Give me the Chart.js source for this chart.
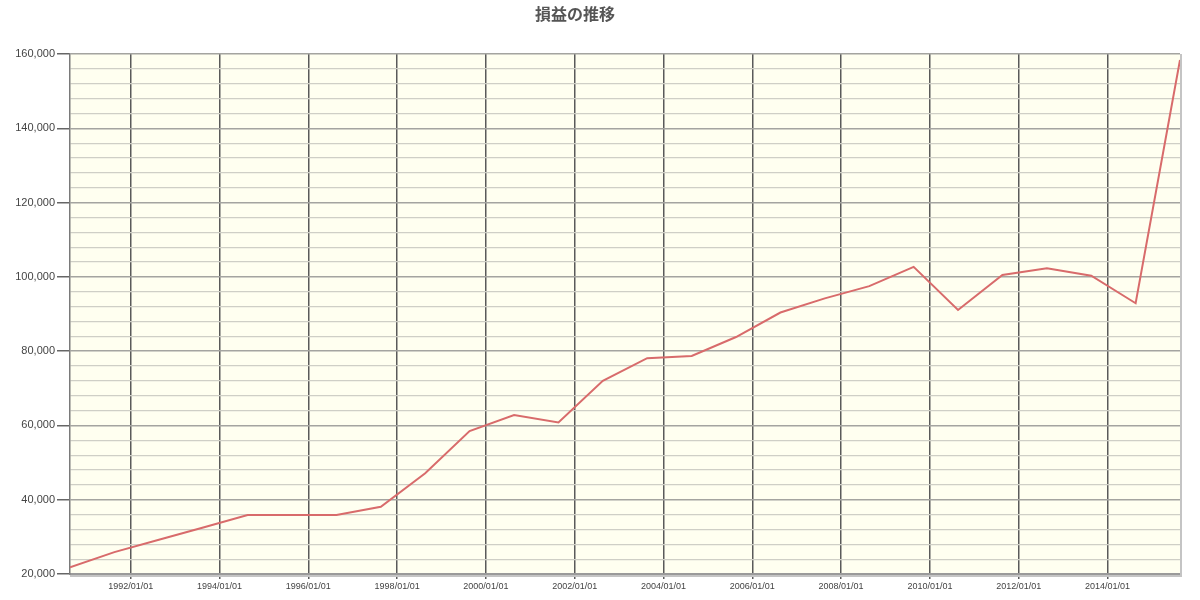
<!DOCTYPE html>
<html>
<head>
<meta charset="utf-8">
<script src="https://cdn.jsdelivr.net/npm/chart.js@4/dist/chart.umd.min.js"></script>
<style>
  html, body { margin: 0; padding: 0; background: #fff; }
  #wrap { width: 1200px; height: 600px; }
</style>
</head>
<body>
<div id="wrap"><canvas id="lineChart" width="1200" height="600"></canvas></div>
<script>
// 損益の推移 (yearly, one point per year)
const title = '損益の推移';
const dates = [
  '1990/08/20', '1991/08/20', '1992/08/20', '1993/08/20', '1994/08/20',
  '1995/08/20', '1996/08/20', '1997/08/20', '1998/08/20', '1999/08/20',
  '2000/08/20', '2001/08/20', '2002/08/20', '2003/08/20', '2004/08/20',
  '2005/08/20', '2006/08/20', '2007/08/20', '2008/08/20', '2009/08/20',
  '2010/08/20', '2011/08/20', '2012/08/20', '2013/08/20', '2014/08/20',
  '2015/08/20'
];
const profit = [
  21800, 25900, 29200, 32500, 35900,
  35900, 35900, 38100, 47100, 58500,
  62800, 60800, 72000, 78100, 78700,
  83800, 90400, 94200, 97500, 102700,
  91100, 100500, 102300, 100300, 92900,
  158400
];
const xTickLabels = [
  '1992/01/01', '1994/01/01', '1996/01/01', '1998/01/01', '2000/01/01', '2002/01/01',
  '2004/01/01', '2006/01/01', '2008/01/01', '2010/01/01', '2012/01/01', '2014/01/01'
];
const yMin = 20000;
const yMax = 160000;
const yMinorStep = 4000;
const yMajorStep = 20000;

function toMs(s) {
  const p = s.split('/').map(Number);
  return Date.UTC(p[0], p[1] - 1, p[2]);
}
function pad(n) { return (n < 10 ? '0' : '') + n; }
function fmtDate(ms) {
  const d = new Date(ms);
  return d.getUTCFullYear() + '/' + pad(d.getUTCMonth() + 1) + '/' + pad(d.getUTCDate());
}

const points = dates.map((d, i) => ({ x: toMs(d), y: profit[i] }));

// plot background, edge shadow and title
const decor = {
  id: 'decor',
  beforeDraw(chart) {
    const { ctx, chartArea: a } = chart;
    ctx.save();
    ctx.fillStyle = '#fffff0';
    ctx.fillRect(a.left, a.top, a.right - a.left, a.bottom - a.top);
    ctx.restore();
  },
  afterDraw(chart) {
    const { ctx, chartArea: a } = chart;
    ctx.save();
    ctx.strokeStyle = '#c4c4c4';
    ctx.lineWidth = 2;
    ctx.beginPath();
    ctx.moveTo(a.right + 1, a.top);
    ctx.lineTo(a.right + 1, a.bottom + 2);
    ctx.lineTo(a.left, a.bottom + 2);
    ctx.stroke();
    ctx.fillStyle = '#555';
    ctx.font = 'bold 16px "Noto Sans CJK JP"';
    ctx.textAlign = 'center';
    ctx.textBaseline = 'middle';
    ctx.fillText(title, 575, 14);
    ctx.restore();
  }
};

const ctxLine = document.getElementById('lineChart').getContext('2d');
new Chart(ctxLine, {
  type: 'line',
  data: {
    datasets: [{
      label: title,
      data: points,
      borderColor: '#d86b6b',
      borderWidth: 2,
      pointRadius: 0,
      fill: false,
      tension: 0
    }]
  },
  options: {
    responsive: false,
    animation: false,
    layout: { padding: { top: 54, right: 20, left: 0, bottom: 0 } },
    plugins: {
      legend: { display: false },
      title: { display: false },
      tooltip: { enabled: false }
    },
    scales: {
      x: {
        type: 'linear',
        min: toMs(dates[0]),
        max: toMs(dates[dates.length - 1]),
        afterBuildTicks(scale) {
          scale.ticks = xTickLabels.map(s => ({ value: toMs(s) }));
        },
        afterFit(scale) { scale.height = 26; },
        ticks: {
          autoSkip: false,
          maxRotation: 0,
          padding: 2,
          color: '#444',
          font: { family: '"Liberation Sans Narrow", "Liberation Sans", Arial', size: 9 },
          callback: v => fmtDate(v)
        },
        grid: {
          color: '#5a5a5a',
          lineWidth: 1.5,
          tickLength: 5,
          tickColor: '#5a5a5a'
        },
        border: { color: '#9a9a9a', width: 2 }
      },
      y: {
        min: yMin,
        max: yMax,
        afterFit(scale) { scale.width = 70; },
        ticks: {
          stepSize: yMinorStep,
          autoSkip: false,
          padding: 2,
          color: '#444',
          font: { family: '"Liberation Sans", Arial', size: 11 },
          callback: v => (v % yMajorStep === 0 ? v.toLocaleString('en-US') : '')
        },
        grid: {
          color: c => (c.tick && c.tick.value % yMajorStep === 0 ? '#a4a4a0' : '#cfcfc6'),
          lineWidth: c => (c.tick && c.tick.value % yMajorStep === 0 ? 1.5 : 1.2),
          tickLength: 13,
          tickColor: c => (c.tick && c.tick.value % yMajorStep === 0 ? '#666' : 'rgba(0,0,0,0)')
        },
        border: { color: '#7a7a7a', width: 1.5 }
      }
    }
  },
  plugins: [decor]
});
</script>
</body>
</html>
